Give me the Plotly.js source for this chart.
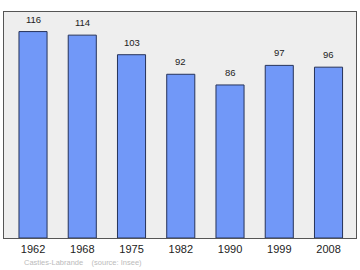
<!DOCTYPE html>
<html><head><meta charset="utf-8">
<script src="https://cdn.plot.ly/plotly-3.0.1.min.js"></script>
<style>html,body{margin:0;padding:0;background:#fff}#c{width:360px;height:270px}</style>
</head><body><div id="c"></div>
<script>
const years = ["1962","1968","1975","1982","1990","1999","2008"];
const population = [116,114,103,92,86,97,96];
const sourceText = "Casties-Labrande    (source: Insee)";
const idx = years.map((_, i) => i);
const valueLabels = population.map((v, i) => ({
  x: idx[i], y: v, xref: 'x', yref: 'y', text: String(v), showarrow: false,
  yanchor: 'bottom', yshift: 5,
  font: {family: 'Liberation Sans, Arial, sans-serif', size: 9.5, color: '#222'}
}));
Plotly.newPlot('c', [{
  type: 'bar',
  x: idx,
  y: population,
  width: 0.57,
  marker: {color: '#7198f8', line: {color: '#26335a', width: 1}},
  hoverinfo: 'none'
}], {
  width: 360, height: 270,
  margin: {l: 4, r: 4, t: 12, b: 32},
  paper_bgcolor: '#ffffff',
  plot_bgcolor: '#eeeeee',
  showlegend: false,
  xaxis: {
    range: [-0.589, 6.558],
    tickvals: idx, ticktext: years,
    showgrid: false, zeroline: false, ticks: '',
    ticklabelstandoff: 1,
    showline: true, linecolor: '#555', linewidth: 1, mirror: true,
    tickfont: {family: 'Liberation Sans, Arial, sans-serif', size: 11, color: '#222'}
  },
  yaxis: {
    range: [0, 127],
    showticklabels: false, showgrid: false, zeroline: false, ticks: '',
    showline: true, linecolor: '#555', linewidth: 1, mirror: true
  },
  annotations: valueLabels.concat([{
    text: sourceText, xref: 'paper', yref: 'paper',
    x: 0.05, y: -0.108, xanchor: 'left', yanchor: 'middle', showarrow: false,
    font: {family: 'Liberation Sans, Arial, sans-serif', size: 7.5, color: '#bbbbbb'}
  }])
}, {displayModeBar: false, staticPlot: true});
</script></body></html>
